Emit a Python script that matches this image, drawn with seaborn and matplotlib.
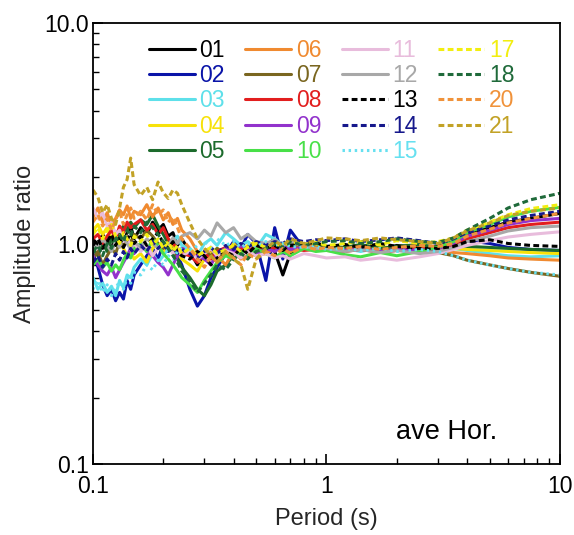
import matplotlib
matplotlib.use("Agg")
import matplotlib.pyplot as plt
import matplotlib.ticker as mticker
import numpy as np
import pandas as pd
import seaborn as sns

sns.set_theme(style="ticks")
plt.rcParams['font.family'] = ['Liberation Sans', 'DejaVu Sans']

periods = [0.100, 0.105, 0.110, 0.115, 0.120, 0.125, 0.130, 0.135, 0.140, 0.145, 0.150,
           0.160, 0.170, 0.180, 0.190, 0.200, 0.210, 0.220, 0.230, 0.240,
           0.260, 0.280, 0.300, 0.320, 0.340, 0.370, 0.400, 0.430, 0.460, 0.500,
           0.550, 0.600, 0.650, 0.700, 0.800, 0.900, 1.00,
           1.20, 1.40, 1.70, 2.00, 2.50, 3.00, 3.50, 4.00, 5.00, 6.00, 7.50, 10.0]

s01 = [1.05, 0.98, 1.10, 1.02, 0.95, 1.08, 1.15, 1.00, 1.12, 1.20, 1.05,
       1.18, 1.10, 1.25, 1.15, 1.22, 1.08, 1.12, 0.98, 1.05,
       0.92, 0.80, 0.88, 0.95, 0.85, 0.92, 0.98, 0.90, 0.95, 0.88,
       1.00, 0.92, 0.72, 0.90, 0.96, 0.93, 0.97,
       0.95, 0.97, 0.94, 0.98, 0.96, 0.97, 1.02, 1.10, 1.18, 1.25, 1.30, 1.37]
s02 = [0.90, 0.78, 0.65, 0.58, 0.62, 0.55, 0.60, 0.56, 0.68, 0.62, 0.72,
       0.80, 0.88, 0.95, 0.85, 1.00, 0.92, 0.98, 0.88, 0.80,
       0.62, 0.52, 0.58, 0.70, 0.78, 0.90, 1.02, 0.95, 1.10, 1.00,
       0.68, 1.18, 0.85, 1.15, 0.95, 0.98, 0.96,
       0.94, 0.96, 0.93, 0.97, 0.95, 0.96, 1.00, 1.03, 1.00, 0.96, 0.94, 0.93]
s03 = [0.70, 0.62, 0.66, 0.60, 0.64, 0.58, 0.68, 0.63, 0.72, 0.70, 0.78,
       0.85, 0.80, 0.90, 0.82, 0.88, 0.95, 1.02, 1.08, 0.98,
       0.95, 0.88, 1.00, 1.05, 0.98, 1.12, 1.05, 0.98, 1.02, 0.95,
       1.10, 1.05, 0.98, 1.00, 0.95, 0.97, 0.93,
       0.95, 0.92, 0.96, 0.94, 0.95, 0.96, 0.95, 0.93, 0.90, 0.88, 0.87, 0.88]
s04 = [1.15, 1.22, 1.10, 1.18, 1.05, 1.12, 1.00, 0.95, 0.88, 0.92, 0.85,
       0.90, 0.82, 0.95, 1.00, 0.92, 1.05, 0.98, 0.90, 0.85,
       0.80, 0.75, 0.85, 0.90, 0.95, 0.88, 1.00, 0.92, 0.98, 1.02,
       0.94, 0.98, 1.00, 0.92, 0.97, 0.98, 0.94,
       0.96, 0.94, 0.97, 0.95, 0.98, 0.96, 0.95, 0.94, 0.93, 0.92, 0.91, 0.90]
s05 = [0.95, 0.88, 1.00, 0.92, 1.05, 0.98, 1.12, 1.20, 1.15, 1.25, 1.18,
       1.28, 1.22, 1.35, 1.20, 1.10, 1.00, 0.92, 0.85, 0.78,
       0.70, 0.62, 0.58, 0.65, 0.75, 0.80, 0.88, 0.92, 0.85, 0.95,
       0.90, 0.98, 0.93, 0.97, 1.00, 0.96, 0.97,
       0.96, 0.99, 0.95, 0.97, 0.99, 0.96, 0.98, 0.97, 0.96, 0.95, 0.94, 0.93]
s06 = [1.32, 1.45, 1.25, 1.38, 1.20, 1.30, 1.42, 1.35, 1.48, 1.30, 1.40,
       1.35, 1.50, 1.32, 1.45, 1.28, 1.38, 1.22, 1.30, 1.15,
       1.05, 0.92, 0.85, 0.95, 0.88, 0.80, 0.92, 0.85, 0.95, 0.88,
       0.90, 0.95, 0.98, 0.92, 1.00, 0.96, 0.94,
       0.93, 0.95, 0.92, 0.94, 0.96, 0.93, 0.91, 0.90, 0.88, 0.86, 0.85, 0.84]
s07 = [0.85, 0.92, 0.80, 0.88, 0.95, 0.90, 1.02, 0.96, 1.08, 1.00, 1.10,
       1.05, 1.15, 1.08, 1.00, 0.95, 1.02, 0.92, 0.88, 0.95,
       0.90, 0.85, 0.92, 0.88, 0.95, 0.90, 0.98, 0.93, 0.88, 0.95,
       0.98, 0.93, 0.96, 1.00, 0.97, 0.95, 0.95,
       0.94, 0.96, 0.93, 0.95, 0.92, 0.91, 0.88, 0.84, 0.80, 0.77, 0.74, 0.71]
s08 = [1.05, 1.10, 1.00, 1.08, 1.15, 1.05, 1.20, 1.12, 1.25, 1.18, 1.22,
       1.28, 1.15, 1.22, 1.10, 1.18, 1.05, 1.00, 0.95, 0.90,
       0.88, 0.82, 0.90, 0.85, 0.92, 0.96, 0.90, 0.95, 0.92, 0.98,
       0.93, 0.96, 0.92, 0.95, 0.93, 0.94, 0.93,
       0.92, 0.94, 0.91, 0.93, 0.95, 0.93, 0.98, 1.05, 1.12, 1.18, 1.22, 1.25]
s09 = [0.88, 0.80, 0.75, 0.72, 0.78, 0.70, 0.76, 0.82, 0.88, 0.95, 0.90,
       1.00, 0.92, 0.88, 0.82, 0.78, 0.72, 0.80, 0.88, 0.95,
       0.92, 0.88, 0.85, 0.80, 0.90, 0.95, 0.92, 0.98, 0.94, 0.90,
       0.95, 0.92, 0.97, 0.94, 0.96, 0.93, 0.94,
       0.93, 0.95, 0.92, 0.94, 0.93, 0.95, 1.00, 1.08, 1.15, 1.22, 1.27, 1.30]
s10 = [0.80, 0.85, 0.78, 0.82, 0.75, 0.80, 0.76, 0.84, 0.90, 0.86, 0.95,
       1.00, 0.92, 1.05, 0.98, 0.90, 0.85, 0.80, 0.75, 0.70,
       0.65, 0.60, 0.68, 0.75, 0.82, 0.88, 0.85, 0.92, 0.88, 0.95,
       0.90, 0.86, 0.92, 0.88, 0.95, 0.92, 0.93,
       0.89, 0.87, 0.91, 0.88, 0.92, 0.96, 1.02, 1.12, 1.22, 1.32, 1.40, 1.46]
s11 = [1.45, 1.30, 1.38, 1.20, 1.25, 1.10, 1.15, 1.02, 1.08, 0.95, 1.00,
       0.92, 0.98, 0.88, 0.95, 1.02, 0.96, 0.90, 0.95, 0.88,
       0.92, 0.85, 0.90, 0.95, 0.88, 0.93, 0.90, 0.86, 0.92, 0.88,
       0.90, 0.86, 0.88, 0.85, 0.90, 0.88, 0.86,
       0.87, 0.84, 0.86, 0.84, 0.87, 0.90, 0.94, 0.98, 1.03, 1.07, 1.10, 1.13]
s12 = [1.00, 0.95, 1.05, 0.98, 0.92, 1.02, 0.96, 1.08, 1.00, 0.94, 1.02,
       0.96, 1.05, 1.00, 0.95, 1.02, 0.98, 1.06, 1.00, 1.08,
       1.12, 1.05, 1.15, 1.08, 1.24, 1.12, 1.18, 1.05, 1.10, 1.02,
       1.00, 1.04, 0.98, 1.02, 0.97, 0.95, 0.95,
       0.92, 0.94, 0.91, 0.93, 0.90, 0.92, 0.96, 1.02, 1.08, 1.14, 1.18, 1.20]
s13 = [0.98, 1.05, 0.95, 1.02, 1.10, 0.98, 1.06, 0.96, 1.04, 1.12, 1.00,
       1.08, 0.98, 1.05, 1.12, 1.00, 0.95, 1.02, 0.92, 0.88,
       0.85, 0.92, 0.88, 0.80, 0.86, 0.92, 0.88, 0.95, 0.90, 0.98,
       0.95, 0.98, 0.93, 0.98, 1.00, 1.01, 0.97,
       0.99, 0.96, 1.00, 0.97, 0.95, 0.95, 0.97, 1.02, 1.04, 1.00, 0.98, 0.97]
s14 = [0.82, 0.88, 0.78, 0.85, 0.80, 0.90, 0.84, 0.92, 0.86, 0.95, 0.90,
       0.98, 0.92, 1.02, 0.95, 1.00, 0.92, 0.96, 0.90, 0.94,
       0.90, 0.86, 0.92, 0.96, 0.90, 0.98, 0.94, 1.00, 0.96, 1.02,
       0.98, 1.02, 1.00, 1.05, 1.02, 1.04, 1.03,
       1.05, 1.02, 1.04, 1.06, 1.03, 1.00, 1.05, 1.12, 1.20, 1.28, 1.34, 1.40]
s15 = [0.62, 0.68, 0.60, 0.65, 0.58, 0.63, 0.67, 0.62, 0.70, 0.66, 0.74,
       0.72, 0.80, 0.76, 0.84, 0.80, 0.88, 0.85, 0.92, 0.96,
       0.92, 0.98, 1.02, 0.96, 1.05, 0.98, 1.02, 0.96, 1.00, 0.97,
       1.02, 0.98, 1.00, 0.97, 0.96, 0.97, 0.94,
       0.95, 0.93, 0.95, 0.92, 0.94, 0.92, 0.88, 0.84, 0.80, 0.77, 0.74, 0.72]
s17 = [1.10, 1.18, 1.05, 1.15, 1.22, 1.08, 1.00, 1.12, 1.05, 0.98, 1.08,
       1.02, 1.10, 0.98, 1.05, 0.95, 1.02, 0.92, 0.98, 0.90,
       0.95, 0.88, 0.92, 0.96, 0.90, 0.94, 0.98, 0.92, 0.96, 1.00,
       0.96, 1.00, 0.97, 1.02, 0.99, 1.01, 0.98,
       1.00, 1.02, 0.99, 1.03, 1.00, 1.02, 1.06, 1.15, 1.25, 1.35, 1.44, 1.50]
s18 = [0.92, 0.98, 0.88, 1.00, 0.95, 1.05, 1.10, 1.02, 1.15, 1.08, 1.20,
       1.12, 1.25, 1.18, 1.10, 1.02, 0.95, 0.88, 0.82, 0.75,
       0.68, 0.60, 0.66, 0.72, 0.80, 0.76, 0.85, 0.90, 0.86, 0.92,
       0.95, 1.00, 0.96, 1.02, 0.98, 1.00, 1.02,
       1.03, 1.00, 1.02, 1.05, 1.02, 1.01, 1.06, 1.15, 1.30, 1.45, 1.58, 1.69]
s20 = [1.25, 1.35, 1.20, 1.30, 1.15, 1.28, 1.40, 1.22, 1.35, 1.45, 1.30,
       1.40, 1.28, 1.50, 1.35, 1.42, 1.25, 1.32, 1.18, 1.05,
       0.95, 0.85, 0.78, 0.88, 0.82, 0.92, 0.86, 0.80, 0.90, 0.85,
       0.92, 0.88, 0.95, 0.90, 0.97, 0.94, 0.96,
       0.95, 0.97, 0.94, 0.96, 0.98, 0.97, 1.00, 1.08, 1.16, 1.24, 1.30, 1.37]
s21 = [1.75, 1.62, 1.38, 1.50, 1.30, 1.22, 1.45, 1.80, 1.95, 2.44, 1.85,
       1.65, 1.80, 1.58, 1.90, 1.70, 1.60, 1.75, 1.69, 1.50,
       1.24, 1.05, 0.95, 0.88, 0.82, 0.92, 0.85, 0.80, 0.62, 0.85,
       0.95, 1.02, 0.98, 1.05, 1.00, 1.03, 1.06,
       1.05, 1.03, 1.06, 1.04, 1.02, 1.00, 1.06, 1.14, 1.24, 1.34, 1.40, 1.45]

names = ["01", "02", "03", "04", "05", "06", "07", "08", "09", "10",
         "11", "12", "13", "14", "15", "17", "18", "20", "21"]
series = [s01, s02, s03, s04, s05, s06, s07, s08, s09, s10,
          s11, s12, s13, s14, s15, s17, s18, s20, s21]

colors = {"01": "#000000", "02": "#0a14a8", "03": "#5ee0ea", "04": "#f7e20a",
          "05": "#1c6b2c", "06": "#f08a30", "07": "#7a6620", "08": "#e21e1e",
          "09": "#9232cc", "10": "#48e048", "11": "#e8bcdc", "12": "#a8a8a8",
          "13": "#000000", "14": "#16188c", "15": "#66e0f0", "17": "#f2ee10",
          "18": "#1f6a3a", "20": "#f0923a", "21": "#c2a226"}
dashed = {"13", "14", "17", "18", "20", "21"}
dotted = {"15"}

fig = plt.figure(figsize=(5.74, 5.35), dpi=100)
ax = fig.add_axes([0.162, 0.1327, 0.8136, 0.8243])

for name, vals in zip(names, series):
    df = pd.DataFrame({"Period": periods, "Ratio": vals})
    if name in dashed:
        ls = (0, (1.9, 1.1))
    elif name in dotted:
        ls = (0, (0.8, 1.2))
    else:
        ls = "-"
    sns.lineplot(data=df, x="Period", y="Ratio", ax=ax, color=colors[name],
                 linestyle=ls, linewidth=2.2, label=name, sort=False,
                 estimator=None, errorbar=None)

ax.set_xscale("log")
ax.set_yscale("log")
ax.set_xlim(0.1, 10)
ax.set_ylim(0.1, 10)

ax.xaxis.set_major_locator(mticker.FixedLocator([0.1, 1, 10]))
ax.xaxis.set_major_formatter(mticker.FixedFormatter(["0.1", "1", "10"]))
ax.yaxis.set_major_locator(mticker.FixedLocator([0.1, 1, 10]))
ax.yaxis.set_major_formatter(mticker.FixedFormatter(["0.1", "1.0", "10.0"]))
ax.xaxis.set_minor_locator(mticker.LogLocator(base=10, subs=np.arange(2, 10)))
ax.yaxis.set_minor_locator(mticker.LogLocator(base=10, subs=np.arange(2, 10)))
ax.xaxis.set_minor_formatter(mticker.NullFormatter())
ax.yaxis.set_minor_formatter(mticker.NullFormatter())
ax.tick_params(which="both", direction="in", top=False, right=False,
               labelsize=16.5, colors="black")
ax.tick_params(axis="x", which="major", pad=8)
ax.tick_params(axis="y", which="major", pad=3)
ax.tick_params(which="major", length=7, width=1.2)
ax.tick_params(which="minor", length=4, width=1.0)
for sp in ax.spines.values():
    sp.set_linewidth(1.3)
    sp.set_color("black")

ax.set_xlabel("Period (s)", fontsize=17, labelpad=7)
ax.set_ylabel("Amplitude ratio", fontsize=17, labelpad=6)

leg = ax.legend(loc="upper left", bbox_to_anchor=(0.1, 0.985), ncol=4,
                frameon=False, fontsize=16.5, handlelength=2.0, handletextpad=0.2,
                columnspacing=0.9, labelspacing=0.1, borderaxespad=0.0)
for txt, line in zip(leg.get_texts(), leg.get_lines()):
    txt.set_color(line.get_color())

ax.text(0.865, 0.073, "ave Hor.", transform=ax.transAxes, fontsize=19.5,
        ha="right", va="center", color="black")

fig.savefig("out.png", dpi=100, facecolor="white")
